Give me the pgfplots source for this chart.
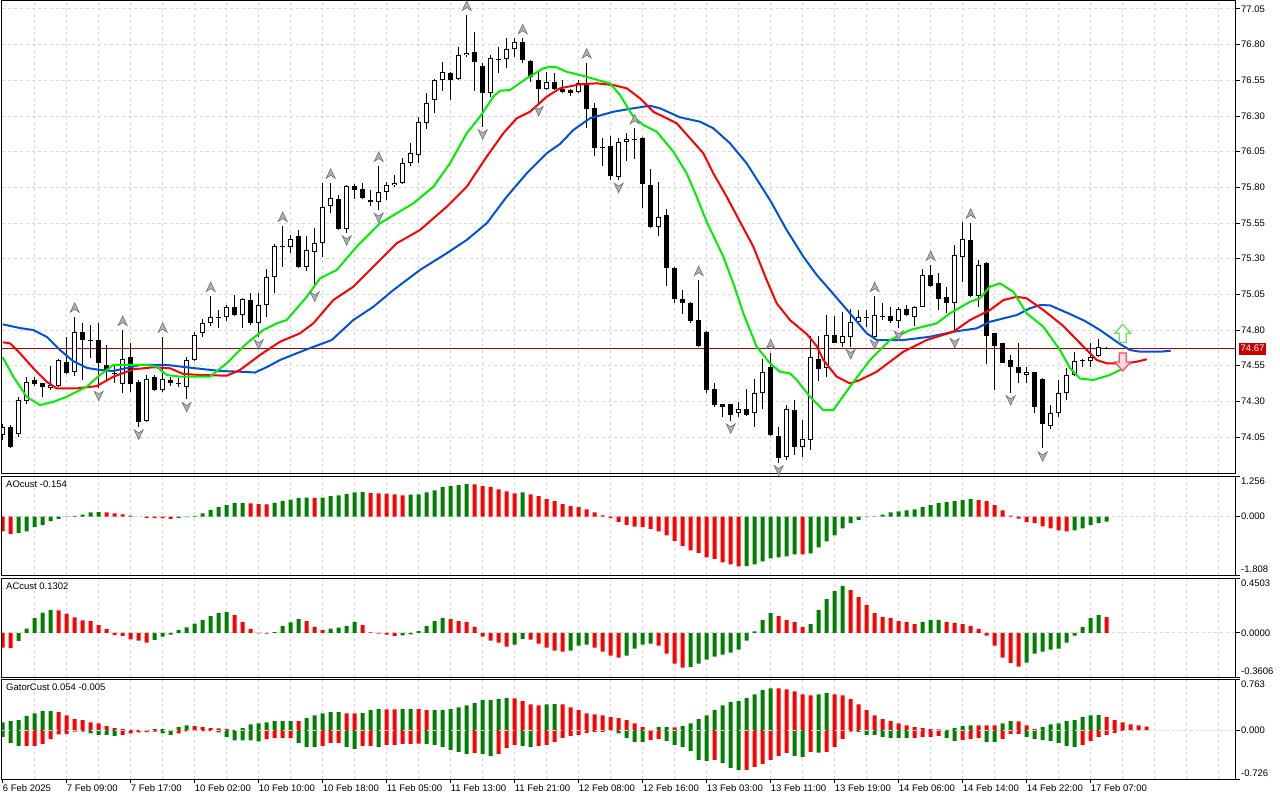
\documentclass[border=0pt]{standalone}
\usepackage{pgfplots}
\pgfplotsset{compat=1.18}
\usepackage{pgfplotstable}
\usepackage{fontspec}
\setmainfont{Liberation Sans}
\newcommand\mtf{\fontsize{9.5pt}{11pt}\selectfont}
\definecolor{mtgreen}{RGB}{0,128,0}
\definecolor{mtred}{RGB}{255,0,0}
\definecolor{jaw}{RGB}{0,82,220}
\definecolor{teeth}{RGB}{255,0,0}
\definecolor{lips}{RGB}{0,238,0}
\definecolor{gridc}{RGB}{218,218,218}
\definecolor{pline}{RGB}{176,0,0}
\definecolor{pbox}{RGB}{204,0,0}
\definecolor{fracfill}{RGB}{176,176,182}
\definecolor{fracdraw}{RGB}{110,110,120}
\definecolor{sigg}{RGB}{110,220,110}
\definecolor{sigp}{RGB}{240,80,100}
\definecolor{sigpf}{RGB}{255,215,222}

\pgfdeclareplotmark{fracup}{%
  \pgfpathmoveto{\pgfqpoint{0pt}{5pt}}%
  \pgfpathlineto{\pgfqpoint{4.5pt}{-4.5pt}}%
  \pgfpathlineto{\pgfqpoint{0pt}{-1.5pt}}%
  \pgfpathlineto{\pgfqpoint{-4.5pt}{-4.5pt}}%
  \pgfpathclose\pgfusepathqfillstroke}
\pgfdeclareplotmark{fracdn}{%
  \pgfpathmoveto{\pgfqpoint{0pt}{-5pt}}%
  \pgfpathlineto{\pgfqpoint{4.5pt}{4.5pt}}%
  \pgfpathlineto{\pgfqpoint{0pt}{1.5pt}}%
  \pgfpathlineto{\pgfqpoint{-4.5pt}{4.5pt}}%
  \pgfpathclose\pgfusepathqfillstroke}
\pgfdeclareplotmark{sigup}{%
  \pgfpathmoveto{\pgfqpoint{0pt}{9pt}}%
  \pgfpathlineto{\pgfqpoint{8pt}{0pt}}%
  \pgfpathlineto{\pgfqpoint{3.5pt}{0pt}}%
  \pgfpathlineto{\pgfqpoint{3.5pt}{-9pt}}%
  \pgfpathlineto{\pgfqpoint{-3.5pt}{-9pt}}%
  \pgfpathlineto{\pgfqpoint{-3.5pt}{0pt}}%
  \pgfpathlineto{\pgfqpoint{-8pt}{0pt}}%
  \pgfpathclose\pgfusepathqfillstroke}
\pgfdeclareplotmark{sigdn}{%
  \pgfpathmoveto{\pgfqpoint{0pt}{-9pt}}%
  \pgfpathlineto{\pgfqpoint{8pt}{0pt}}%
  \pgfpathlineto{\pgfqpoint{3.5pt}{0pt}}%
  \pgfpathlineto{\pgfqpoint{3.5pt}{9pt}}%
  \pgfpathlineto{\pgfqpoint{-3.5pt}{9pt}}%
  \pgfpathlineto{\pgfqpoint{-3.5pt}{0pt}}%
  \pgfpathlineto{\pgfqpoint{-8pt}{0pt}}%
  \pgfpathclose\pgfusepathqfillstroke}

\pgfplotstableread{
i o h l c
0 74.064 74.141 74.029 74.122
1 74.122 74.134 73.975 73.982
2 74.071 74.332 74.052 74.309
3 74.304 74.468 74.281 74.433
4 74.450 74.471 74.407 74.422
5 74.426 74.428 74.328 74.398
6 74.393 74.548 74.379 74.412
7 74.407 74.597 74.403 74.590
8 74.576 74.749 74.490 74.501
9 74.504 74.893 74.478 74.784
10 74.784 74.849 74.450 74.730
11 74.733 74.835 74.604 74.726
12 74.730 74.849 74.393 74.567
13 74.553 74.695 74.450 74.520
14 74.499 74.555 74.426 74.491
15 74.422 74.800 74.356 74.595
16 74.609 74.707 74.368 74.422
17 74.433 74.450 74.122 74.153
18 74.164 74.485 74.157 74.454
19 74.468 74.485 74.372 74.379
20 74.377 74.753 74.368 74.454
21 74.450 74.473 74.407 74.431
22 74.432 74.461 74.398 74.424
23 74.403 74.609 74.314 74.588
24 74.588 74.788 74.583 74.765
25 74.777 74.875 74.753 74.847
26 74.847 75.038 74.830 74.889
27 74.891 74.940 74.814 74.883
28 74.889 74.975 74.865 74.963
29 74.959 75.045 74.900 74.903
30 74.903 75.024 74.812 75.015
31 75.010 75.057 74.835 74.851
32 74.851 75.057 74.753 74.975
33 74.975 75.225 74.893 75.174
34 75.174 75.403 75.057 75.389
35 75.387 75.529 75.244 75.379
36 75.380 75.466 75.338 75.436
37 75.459 75.501 75.235 75.244
38 75.244 75.459 75.216 75.361
39 75.345 75.513 75.115 75.408
40 75.408 75.832 75.314 75.664
41 75.669 75.832 75.618 75.723
42 75.716 75.746 75.501 75.510
43 75.506 75.816 75.482 75.809
44 75.809 75.823 75.718 75.781
45 75.786 75.832 75.716 75.723
46 75.711 75.781 75.669 75.695
47 75.695 75.950 75.641 75.765
48 75.765 75.839 75.711 75.816
49 75.816 75.886 75.804 75.832
50 75.828 76.003 75.823 75.973
51 75.973 76.109 75.952 76.039
52 76.025 76.295 75.973 76.256
53 76.249 76.459 76.211 76.389
54 76.412 76.557 76.323 76.552
55 76.552 76.678 76.477 76.606
56 76.601 76.608 76.412 76.552
57 76.557 76.782 76.552 76.728
58 76.728 77.008 76.716 76.744
59 76.746 76.891 76.477 76.681
60 76.650 76.669 76.225 76.459
61 76.459 76.728 76.435 76.704
62 76.703 76.786 76.599 76.695
63 76.697 76.845 76.634 76.767
64 76.767 76.845 76.716 76.821
65 76.817 76.845 76.669 76.692
66 76.685 76.692 76.540 76.575
67 76.552 76.610 76.389 76.487
68 76.487 76.610 76.482 76.536
69 76.536 76.603 76.482 76.487
70 76.487 76.552 76.459 76.466
71 76.482 76.489 76.440 76.459
72 76.466 76.552 76.459 76.533
73 76.533 76.674 76.214 76.347
74 76.354 76.389 76.020 76.074
75 76.086 76.144 75.950 76.078
76 76.090 76.160 75.851 75.879
77 75.874 76.144 75.851 76.120
78 76.118 76.179 75.987 76.137
79 76.139 76.214 75.999 76.131
80 76.148 76.156 75.653 75.823
81 75.816 75.926 75.513 75.524
82 75.524 75.839 75.459 75.594
83 75.606 75.646 75.108 75.232
84 75.232 75.239 74.987 75.015
85 75.015 75.080 74.912 74.987
86 74.991 74.998 74.847 74.865
87 74.870 75.150 74.681 74.688
88 74.784 74.793 74.356 74.379
89 74.384 74.426 74.262 74.274
90 74.279 74.285 74.192 74.262
91 74.279 74.285 74.164 74.204
92 74.216 74.293 74.192 74.244
93 74.244 74.384 74.197 74.204
94 74.216 74.454 74.122 74.356
95 74.356 74.595 74.244 74.504
96 74.539 74.637 74.057 74.064
97 74.057 74.118 73.866 73.905
98 73.908 74.274 73.889 74.244
99 74.239 74.309 73.924 73.978
100 73.978 74.169 73.910 74.034
101 74.029 74.758 73.959 74.609
102 74.595 74.758 74.445 74.525
103 74.532 74.903 74.468 74.763
104 74.765 74.898 74.707 74.711
105 74.711 74.924 74.683 74.758
106 74.749 74.945 74.683 74.854
107 74.854 74.940 74.845 74.889
108 74.894 74.940 74.823 74.886
109 74.749 75.038 74.742 74.903
110 74.900 74.987 74.870 74.892
111 74.898 74.959 74.851 74.865
112 74.865 74.959 74.812 74.945
113 74.945 74.973 74.898 74.903
114 74.893 74.968 74.828 74.959
115 74.963 75.225 74.961 75.183
116 75.183 75.256 75.101 75.108
117 75.127 75.197 74.940 75.015
118 75.029 75.104 74.921 74.987
119 74.987 75.396 74.788 75.326
120 75.314 75.559 75.139 75.436
121 75.431 75.552 75.033 75.040
122 75.040 75.291 74.963 75.256
123 75.272 75.279 74.562 74.758
124 74.777 74.782 74.379 74.690
125 74.707 74.712 74.567 74.571
126 74.590 74.625 74.361 74.539
127 74.539 74.707 74.426 74.497
128 74.485 74.539 74.426 74.504
129 74.504 74.509 74.220 74.258
130 74.457 74.464 73.971 74.139
131 74.127 74.274 74.104 74.216
132 74.216 74.450 74.192 74.356
133 74.356 74.532 74.309 74.485
134 74.485 74.644 74.478 74.585
135 74.590 74.597 74.539 74.582
136 74.585 74.711 74.543 74.613
137 74.618 74.735 74.613 74.679
138 74.674 74.680 74.668 74.666
}\candles

\pgfplotstableread{
x y
0 74.840
2.16 74.814
3.83 74.800
5.54 74.751
7.16 74.660
8.79 74.583
10.54 74.534
12.16 74.520
13.79 74.513
15.54 74.534
17.16 74.555
20.54 74.555
23.79 74.534
27.16 74.513
30.54 74.506
31.54 74.502
33.04 74.541
34.66 74.590
37.79 74.660
41.13 74.730
43.83 74.870
46.33 74.963
48.83 75.080
52.16 75.221
55.5 75.338
58 75.431
60.5 75.548
63 75.734
65.5 75.898
68 76.039
69.66 76.104
71.33 76.202
73.41 76.284
76.33 76.330
78.83 76.354
80.91 76.372
82.16 76.354
84.66 76.291
87.16 76.260
88.83 76.214
90.91 76.109
93 75.968
95.91 75.711
98 75.501
100.08 75.314
101.75 75.186
103.41 75.080
105.91 74.917
108 74.777
109.25 74.730
112.58 74.730
115.91 74.753
118.83 74.788
121.75 74.812
123.41 74.858
126.75 74.905
128.41 74.952
129.66 74.975
130.91 74.973
133.41 74.912
135.29 74.863
137.16 74.800
138.41 74.751
139.66 74.702
140.91 74.660
142.16 74.648
144.66 74.648
146 74.655
}\jawdata

\pgfplotstableread{
x y
0 74.714
0.91 74.707
2.16 74.637
3.83 74.532
5.5 74.438
6.75 74.391
9.25 74.391
11.75 74.407
13.83 74.473
16.33 74.525
18.83 74.539
20.91 74.532
22.58 74.492
24.66 74.485
28 74.480
29.66 74.520
32.16 74.625
34.66 74.718
37.16 74.777
38.83 74.847
41.33 75.010
43.83 75.104
46.33 75.244
49.25 75.408
52.16 75.501
55.5 75.664
58 75.804
60.5 76.015
62.58 76.179
64.25 76.284
65.91 76.330
68 76.435
69.66 76.494
72.16 76.522
74.25 76.529
76.33 76.517
78 76.494
79.66 76.424
81.33 76.330
83 76.284
84.25 76.249
85.91 76.144
87.58 76.039
88.83 75.898
90.5 75.734
92.16 75.559
93.83 75.384
95.5 75.150
96.75 74.987
98.41 74.870
100.5 74.772
101.75 74.688
102.58 74.590
104.25 74.473
105.91 74.426
107.16 74.450
109.25 74.508
112.58 74.648
115.5 74.730
118.83 74.788
120.91 74.870
123.41 74.940
125.08 75.010
126.75 75.033
128 75.022
130.08 74.940
132.58 74.828
134.04 74.744
135.5 74.660
136.75 74.590
138 74.567
140.5 74.567
141.75 74.578
143 74.595
}\teethdata

\pgfplotstableread{
x y
0 74.609
1.33 74.473
3 74.332
4.66 74.274
6.33 74.297
8 74.332
10.5 74.403
12.16 74.485
13.83 74.555
18 74.555
19.25 74.543
20.5 74.485
22.16 74.473
25.91 74.473
28 74.567
30.5 74.707
32.58 74.800
34.25 74.847
35.5 74.870
38 75.033
39.66 75.162
41.75 75.221
44.25 75.384
47.16 75.548
51.33 75.688
53.83 75.804
55.91 75.968
58 76.179
59.66 76.295
61.33 76.435
62.16 76.477
63.41 76.482
65.5 76.564
67.58 76.634
68.41 76.646
69.25 76.641
70.5 76.610
73 76.575
74.66 76.547
75.91 76.529
77.16 76.447
78.83 76.295
80.08 76.237
81.75 76.190
83.83 76.050
85.5 75.898
86.75 75.734
88 75.559
90.08 75.314
91.33 75.127
92.58 74.917
94.25 74.683
95.91 74.567
97.16 74.508
98.41 74.496
99.25 74.450
100.91 74.332
102.58 74.239
103.83 74.239
105.91 74.403
108.41 74.590
110.91 74.730
113.41 74.800
116.75 74.847
118.41 74.917
120.91 74.998
122.16 75.022
123.41 75.104
124.66 75.127
126.33 75.068
128 74.917
130.08 74.823
132.16 74.660
133.41 74.534
134.66 74.460
136.33 74.450
138.41 74.485
139.66 74.520
140.91 74.571
}\lipsdata

\pgfplotstableread{
i p
9 74.956
15 74.863
20 74.816
26 75.101
35 75.592
41 75.895
47 76.013
58 77.071
65 76.908
73 76.737
79 76.277
87 75.213
96 74.700
109 75.101
116 75.319
121 75.615
}\fracupdata

\pgfplotstableread{
i p
12 74.340
17 74.069
23 74.261
32 74.700
39 75.035
43 75.429
47 75.588
60 76.172
67 76.336
77 75.798
91 74.111
97 73.818
106 74.632
109 74.700
112 74.762
119 74.710
126 74.308
130 73.914
}\fracdndata

\pgfplotstableread{
i v c
0 -0.454 0
1 -0.537 0
2 -0.506 1
3 -0.454 1
4 -0.330 1
5 -0.268 1
6 -0.144 1
7 -0.072 1
8 -0.010 1
9 0.020 1
10 0.060 1
11 0.134 1
12 0.136 1
13 0.134 0
14 0.103 0
15 0.072 0
16 0.031 0
17 -0.005 0
18 -0.041 0
19 -0.045 0
20 -0.048 0
21 -0.072 0
22 -0.041 1
23 -0.020 1
24 0.020 1
25 0.103 1
26 0.206 1
27 0.289 1
28 0.351 1
29 0.413 1
30 0.415 1
31 0.410 0
32 0.382 0
33 0.380 0
34 0.423 1
35 0.485 1
36 0.526 1
37 0.568 1
38 0.590 1
39 0.580 0
40 0.590 1
41 0.630 1
42 0.660 1
43 0.700 1
44 0.750 1
45 0.760 1
46 0.730 0
47 0.720 0
48 0.710 0
49 0.690 0
50 0.660 0
51 0.680 1
52 0.690 1
53 0.753 1
54 0.815 1
55 0.908 1
56 0.939 1
57 0.970 1
58 1.001 1
59 0.995 0
60 0.939 0
61 0.908 0
62 0.846 0
63 0.784 0
64 0.722 0
65 0.753 1
66 0.691 0
67 0.630 0
68 0.537 0
69 0.475 0
70 0.382 0
71 0.320 0
72 0.289 0
73 0.227 0
74 0.134 0
75 0.041 0
76 -0.041 0
77 -0.165 0
78 -0.258 0
79 -0.310 0
80 -0.330 0
81 -0.382 0
82 -0.454 0
83 -0.578 0
84 -0.753 0
85 -0.918 0
86 -1.042 0
87 -1.125 0
88 -1.259 0
89 -1.311 0
90 -1.414 0
91 -1.476 0
92 -1.538 0
93 -1.535 1
94 -1.476 1
95 -1.383 1
96 -1.290 1
97 -1.259 1
98 -1.228 1
99 -1.166 1
100 -1.170 0
101 -1.135 1
102 -0.949 1
103 -0.764 1
104 -0.578 1
105 -0.361 1
106 -0.206 1
107 -0.103 1
108 -0.020 1
109 0.005 1
110 0.062 1
111 0.134 1
112 0.165 1
113 0.196 1
114 0.227 1
115 0.289 1
116 0.351 1
117 0.413 1
118 0.444 1
119 0.475 1
120 0.506 1
121 0.537 1
122 0.506 0
123 0.475 0
124 0.351 0
125 0.196 0
126 0.030 0
127 -0.062 0
128 -0.175 0
129 -0.206 0
130 -0.300 0
131 -0.361 0
132 -0.423 0
133 -0.454 0
134 -0.423 1
135 -0.361 1
136 -0.268 1
137 -0.206 1
138 -0.154 1
}\aodata

\pgfplotstableread{
i v c
0 -0.120 0
1 -0.125 0
2 -0.065 1
3 0.035 1
4 0.122 1
5 0.166 1
6 0.188 1
7 0.186 0
8 0.158 0
9 0.128 0
10 0.103 0
11 0.098 0
12 0.065 0
13 0.033 0
14 -0.016 0
15 -0.024 0
16 -0.052 0
17 -0.063 0
18 -0.079 0
19 -0.057 1
20 -0.030 1
21 -0.014 1
22 0.024 1
23 0.046 1
24 0.076 1
25 0.106 1
26 0.139 1
27 0.163 1
28 0.171 1
29 0.147 0
30 0.090 0
31 0.033 0
32 -0.003 0
33 -0.005 0
34 0.008 1
35 0.057 1
36 0.087 1
37 0.114 1
38 0.098 0
39 0.049 0
40 0.024 0
41 0.035 1
42 0.044 1
43 0.057 1
44 0.090 1
45 0.065 0
46 0.005 0
47 -0.005 0
48 -0.014 0
49 -0.024 0
50 -0.019 1
51 -0.011 1
52 0.016 1
53 0.057 1
54 0.098 1
55 0.122 1
56 0.114 0
57 0.098 0
58 0.090 0
59 0.049 0
60 -0.030 0
61 -0.063 0
62 -0.079 0
63 -0.112 0
64 -0.095 1
65 -0.049 1
66 -0.054 0
67 -0.087 0
68 -0.120 0
69 -0.144 0
70 -0.152 0
71 -0.144 1
72 -0.103 1
73 -0.095 1
74 -0.120 0
75 -0.152 0
76 -0.185 0
77 -0.201 0
78 -0.185 1
79 -0.128 1
80 -0.095 1
81 -0.087 1
82 -0.103 0
83 -0.169 0
84 -0.250 0
85 -0.283 0
86 -0.280 1
87 -0.250 1
88 -0.218 1
89 -0.193 1
90 -0.177 1
91 -0.161 1
92 -0.136 1
93 -0.063 1
94 0.014 1
95 0.106 1
96 0.163 1
97 0.139 0
98 0.106 0
99 0.090 0
100 0.049 0
101 0.073 1
102 0.188 1
103 0.277 1
104 0.343 1
105 0.384 1
106 0.351 0
107 0.294 0
108 0.229 0
109 0.163 0
110 0.131 0
111 0.122 0
112 0.098 0
113 0.090 0
114 0.073 0
115 0.090 1
116 0.106 1
117 0.107 1
118 0.090 0
119 0.082 0
120 0.073 0
121 0.057 0
122 0.033 0
123 -0.022 0
124 -0.103 0
125 -0.201 0
126 -0.245 0
127 -0.275 0
128 -0.242 1
129 -0.169 1
130 -0.152 1
131 -0.136 1
132 -0.128 1
133 -0.079 1
134 -0.022 1
135 0.049 1
136 0.122 1
137 0.147 1
138 0.130 0
}\acdata

\pgfplotstableread{
i u uc l lc
0 0.119 1 -0.099 1
1 0.134 1 -0.189 1
2 0.149 1 -0.233 1
3 0.213 1 -0.232 0
4 0.253 1 -0.231 0
5 0.283 1 -0.203 0
6 0.284 1 -0.134 0
7 0.268 0 -0.060 0
8 0.223 0 -0.055 0
9 0.164 0 -0.020 0
10 0.149 0 -0.019 0
11 0.119 0 -0.045 1
12 0.104 0 -0.069 1
13 0.060 0 -0.070 1
14 0.030 0 -0.084 1
15 0.015 0 -0.069 0
16 0.005 0 -0.045 0
17 0.006 1 -0.030 0
18 0.007 1 -0.029 0
19 0.015 1 -0.020 0
20 0.016 1 -0.045 1
21 0.005 0 -0.069 1
22 0.045 1 -0.045 0
23 0.074 1 -0.015 0
24 0.060 0 -0.014 0
25 0.045 0 -0.013 0
26 0.030 0 -0.012 0
27 0.029 0 -0.030 1
28 0.015 0 -0.104 1
29 0.005 0 -0.149 1
30 0.030 1 -0.150 1
31 0.089 1 -0.151 1
32 0.104 1 -0.164 1
33 0.119 1 -0.134 0
34 0.134 1 -0.119 0
35 0.135 1 -0.118 0
36 0.136 1 -0.117 0
37 0.134 0 -0.189 1
38 0.179 1 -0.248 1
39 0.223 1 -0.249 1
40 0.253 1 -0.233 0
41 0.268 1 -0.189 0
42 0.269 1 -0.188 0
43 0.253 0 -0.248 1
44 0.252 0 -0.278 1
45 0.255 1 -0.233 0
46 0.298 1 -0.232 0
47 0.313 1 -0.248 1
48 0.312 0 -0.218 0
49 0.311 0 -0.217 0
50 0.313 1 -0.203 0
51 0.314 1 -0.202 0
52 0.313 0 -0.201 0
53 0.298 0 -0.205 1
54 0.300 1 -0.218 1
55 0.302 1 -0.248 1
56 0.313 1 -0.293 1
57 0.342 1 -0.323 1
58 0.372 1 -0.352 1
59 0.402 1 -0.337 0
60 0.447 1 -0.352 1
61 0.449 1 -0.382 1
62 0.462 1 -0.352 0
63 0.477 1 -0.263 0
64 0.475 0 -0.218 0
65 0.432 0 -0.233 1
66 0.387 0 -0.248 1
67 0.372 0 -0.233 0
68 0.387 1 -0.218 0
69 0.389 1 -0.174 0
70 0.387 0 -0.114 0
71 0.342 0 -0.084 0
72 0.298 0 -0.069 0
73 0.253 0 -0.040 0
74 0.238 0 -0.025 0
75 0.223 0 -0.024 0
76 0.194 0 -0.003 0
77 0.179 0 -0.045 1
78 0.149 0 -0.114 1
79 0.104 0 -0.174 1
80 0.045 0 -0.175 1
81 0.005 0 -0.144 0
82 0.045 1 -0.129 0
83 0.046 1 -0.159 1
84 0.044 0 -0.218 1
85 0.060 1 -0.248 1
86 0.104 1 -0.308 1
87 0.164 1 -0.442 1
88 0.223 1 -0.457 1
89 0.298 1 -0.442 0
90 0.372 1 -0.487 1
91 0.417 1 -0.561 1
92 0.432 1 -0.591 1
93 0.477 1 -0.590 0
94 0.536 1 -0.546 0
95 0.596 1 -0.501 0
96 0.625 1 -0.442 0
97 0.624 0 -0.382 0
98 0.610 0 -0.337 0
99 0.580 0 -0.382 1
100 0.536 0 -0.397 1
101 0.521 0 -0.323 0
102 0.536 1 -0.335 1
103 0.551 1 -0.323 0
104 0.536 0 -0.248 0
105 0.521 0 -0.129 0
106 0.462 0 -0.020 0
107 0.387 0 -0.025 1
108 0.298 0 -0.069 1
109 0.223 0 -0.070 1
110 0.164 0 -0.099 1
111 0.134 0 -0.113 1
112 0.104 0 -0.114 1
113 0.074 0 -0.115 1
114 0.045 0 -0.114 0
115 0.030 0 -0.099 0
116 0.015 0 -0.098 0
117 0.014 0 -0.084 0
118 0.005 0 -0.114 1
119 0.030 1 -0.159 1
120 0.060 1 -0.144 0
121 0.074 1 -0.129 0
122 0.073 0 -0.114 0
123 0.072 0 -0.174 1
124 0.071 0 -0.175 1
125 0.104 1 -0.129 0
126 0.134 1 -0.055 0
127 0.133 0 -0.054 0
128 0.074 0 -0.099 1
129 0.015 0 -0.129 1
130 0.045 1 -0.144 1
131 0.089 1 -0.159 1
132 0.104 1 -0.189 1
133 0.134 1 -0.233 1
134 0.149 1 -0.248 1
135 0.194 1 -0.218 0
136 0.223 1 -0.159 0
137 0.224 1 -0.099 0
138 0.194 0 -0.069 0
139 0.149 0 -0.040 0
140 0.119 0 -0.010 0
141 0.089 0 -0.005 0
142 0.074 0 0 0
143 0.054 0 0 0
}\gatordata

\pgfplotsset{
  mtaxis/.style={
    scale only axis, width=1234pt,
    xmin=-0.0875, xmax=154.16,
    anchor=north west,
    clip mode=individual,
    axis line style={black, line width=1pt},
    grid style={gridc, dash pattern=on 3pt off 3pt, line width=1pt},
    xtick={4,8,...,152}, xticklabels={}, xmajorgrids=true,
    xtick style={draw=none},
    ytick pos=right, yticklabel pos=right,
    tick align=outside, major tick length=4pt,
    ytick style={black, line width=1pt},
    ticklabel style={font=\mtf},
    yticklabel style={anchor=west, inner sep=1pt},
  },
  hbar/.style={ybar, bar width=4pt, bar shift=0pt, draw=none, forget plot},
}

\begin{document}
\begin{tikzpicture}[x=1pt,y=1pt]
\path[use as bounding box] (0pt,0pt) rectangle (1280pt,-800pt);

% ---------------- main price panel ----------------
\begin{axis}[mtaxis, at={(2pt,-1pt)}, height=472pt,
  ymin=73.798, ymax=77.106,
  ytick={74.05,74.30,74.55,74.80,75.05,75.30,75.55,75.80,76.05,76.30,76.55,76.80,77.05},
  yticklabels={74.05,74.30,74.55,74.80,75.05,75.30,75.55,75.80,76.05,76.30,76.55,76.80,77.05},
  ymajorgrids=true]
\addplot[pline, line width=1pt, forget plot] coordinates {(-1,74.67) (160,74.67)};
% wicks
\addplot[draw=none, mark=none, forget plot,
  error bars/.cd, y dir=plus, y explicit, error mark=none,
  error bar style={draw=black, line width=1pt, solid}]
  table[x=i, y=l, y error expr=\thisrow{h}-\thisrow{l}] {\candles};
% bodies
\addplot[draw=none, mark=none, forget plot,
  error bars/.cd, y dir=plus, y explicit, error mark=none,
  error bar style={draw=black, line width=5pt, solid}]
  table[x=i, y expr={min(\thisrow{o},\thisrow{c})}, y error expr={abs(\thisrow{o}-\thisrow{c})}] {\candles};
% hollow (bull) bodies
\addplot[draw=none, mark=none, forget plot,
  restrict expr to domain={\thisrow{c}-\thisrow{o}}{0.0145:100},
  error bars/.cd, y dir=plus, y explicit, error mark=none,
  error bar style={draw=white, line width=3pt, solid, shorten <=1pt, shorten >=1pt}]
  table[x=i, y=o, y error expr={\thisrow{c}-\thisrow{o}}] {\candles};
% alligator
\addplot[jaw, line width=2pt, line join=round] table[x=x,y=y] {\jawdata};
\addplot[teeth, line width=2pt, line join=round] table[x=x,y=y] {\teethdata};
\addplot[lips, line width=2pt, line join=round] table[x=x,y=y] {\lipsdata};
% fractals
\addplot[only marks, mark=fracup, mark options={fill=fracfill, draw=fracdraw, line width=0.6pt}] table[x=i,y=p] {\fracupdata};
\addplot[only marks, mark=fracdn, mark options={fill=fracfill, draw=fracdraw, line width=0.6pt}] table[x=i,y=p] {\fracdndata};
% signal arrows
\addplot[only marks, mark=sigup, mark options={fill=white, draw=sigg, line width=1.3pt}] coordinates {(140,74.777)};
\addplot[only marks, mark=sigdn, mark options={fill=sigpf, draw=sigp, line width=1.3pt}] coordinates {(140,74.576)};
\node[fill=pbox, text=white, anchor=west, inner xsep=1.5pt, inner ysep=0pt, minimum height=12pt, font=\mtf, xshift=3pt]
  at ({rel axis cs:1,0}|-{axis cs:0,74.67}) {74.67};
\end{axis}

% ---------------- AO panel ----------------
\begin{axis}[mtaxis, at={(2pt,-476pt)}, height=99pt,
  ymin=-1.808, ymax=1.256, ytick={0}, yticklabels={}, ymajorgrids=true,
  extra y ticks={-1.808,1.256}, extra y tick labels={}, extra y tick style={grid=none}]
\addplot[hbar, fill=mtgreen, restrict expr to domain={\thisrow{c}}{0.5:1.5}] table[x=i,y=v] {\aodata};
\addplot[hbar, fill=mtred, restrict expr to domain={\thisrow{c}}{-0.5:0.5}] table[x=i,y=v] {\aodata};
\node[anchor=north west, inner sep=0pt, font=\mtf, xshift=4pt, yshift=-5pt] at (rel axis cs:0,1) {AOcust -0.154};
\node[anchor=north west, inner sep=0pt, font=\mtf, xshift=5pt, yshift=-2pt] at (rel axis cs:1,1) {1.256};
\node[anchor=west, inner sep=0pt, font=\mtf, xshift=5pt] at ({rel axis cs:1,0}|-{axis cs:0,0}) {0.000};
\node[anchor=south west, inner sep=0pt, font=\mtf, xshift=5pt, yshift=2pt] at (rel axis cs:1,0) {-1.808};
\end{axis}

% ---------------- AC panel ----------------
\begin{axis}[mtaxis, at={(2pt,-578pt)}, height=99pt,
  ymin=-0.3606, ymax=0.4503, ytick={0}, yticklabels={}, ymajorgrids=true,
  extra y ticks={-0.3606,0.4503}, extra y tick labels={}, extra y tick style={grid=none}]
\addplot[hbar, fill=mtgreen, restrict expr to domain={\thisrow{c}}{0.5:1.5}] table[x=i,y=v] {\acdata};
\addplot[hbar, fill=mtred, restrict expr to domain={\thisrow{c}}{-0.5:0.5}] table[x=i,y=v] {\acdata};
\node[anchor=north west, inner sep=0pt, font=\mtf, xshift=4pt, yshift=-5pt] at (rel axis cs:0,1) {ACcust 0.1302};
\node[anchor=north west, inner sep=0pt, font=\mtf, xshift=5pt, yshift=-2pt] at (rel axis cs:1,1) {0.4503};
\node[anchor=west, inner sep=0pt, font=\mtf, xshift=5pt] at ({rel axis cs:1,0}|-{axis cs:0,0}) {0.0000};
\node[anchor=south west, inner sep=0pt, font=\mtf, xshift=5pt, yshift=2pt] at (rel axis cs:1,0) {-0.3606};
\end{axis}

% ---------------- Gator panel ----------------
\begin{axis}[mtaxis, at={(2pt,-679pt)}, height=100pt,
  ymin=-0.726, ymax=0.763, ytick={0}, yticklabels={}, ymajorgrids=true,
  extra y ticks={-0.726,0.763}, extra y tick labels={}, extra y tick style={grid=none},
  xtick={0,8,...,136},
  xticklabels={6 Feb 2025,7 Feb 09:00,7 Feb 17:00,10 Feb 02:00,10 Feb 10:00,10 Feb 18:00,11 Feb 05:00,11 Feb 13:00,11 Feb 21:00,12 Feb 08:00,12 Feb 16:00,13 Feb 03:00,13 Feb 11:00,13 Feb 19:00,14 Feb 06:00,14 Feb 14:00,14 Feb 22:00,17 Feb 07:00},
  xmajorgrids=false, xtick pos=bottom,
  xtick style={draw=black, line width=1pt},
  xticklabel style={anchor=north west, inner sep=0pt, yshift=-1pt},
  extra x ticks={4,8,...,152}, extra x tick labels={},
  extra x tick style={grid=major, major tick length=0pt}]
\addplot[hbar, fill=mtgreen, restrict expr to domain={\thisrow{uc}}{0.5:1.5}] table[x=i,y=u] {\gatordata};
\addplot[hbar, fill=mtred, restrict expr to domain={\thisrow{uc}}{-0.5:0.5}] table[x=i,y=u] {\gatordata};
\addplot[hbar, fill=mtgreen, restrict expr to domain={\thisrow{lc}}{0.5:1.5}] table[x=i,y=l] {\gatordata};
\addplot[hbar, fill=mtred, restrict expr to domain={\thisrow{lc}}{-0.5:0.5}] table[x=i,y=l] {\gatordata};
\addplot[gridc!70!white, line width=1pt, dash pattern=on 3pt off 3pt, forget plot] coordinates {(-1,0) (160,0)};
\node[anchor=north west, inner sep=0pt, font=\mtf, xshift=4pt, yshift=-5pt] at (rel axis cs:0,1) {GatorCust 0.054 -0.005};
\node[anchor=north west, inner sep=0pt, font=\mtf, xshift=5pt, yshift=-2pt] at (rel axis cs:1,1) {0.763};
\node[anchor=west, inner sep=0pt, font=\mtf, xshift=5pt] at ({rel axis cs:1,0}|-{axis cs:0,0}) {0.000};
\node[anchor=south west, inner sep=0pt, font=\mtf, xshift=5pt, yshift=2pt] at (rel axis cs:1,0) {-0.726};
\end{axis}
\end{tikzpicture}
\end{document}
